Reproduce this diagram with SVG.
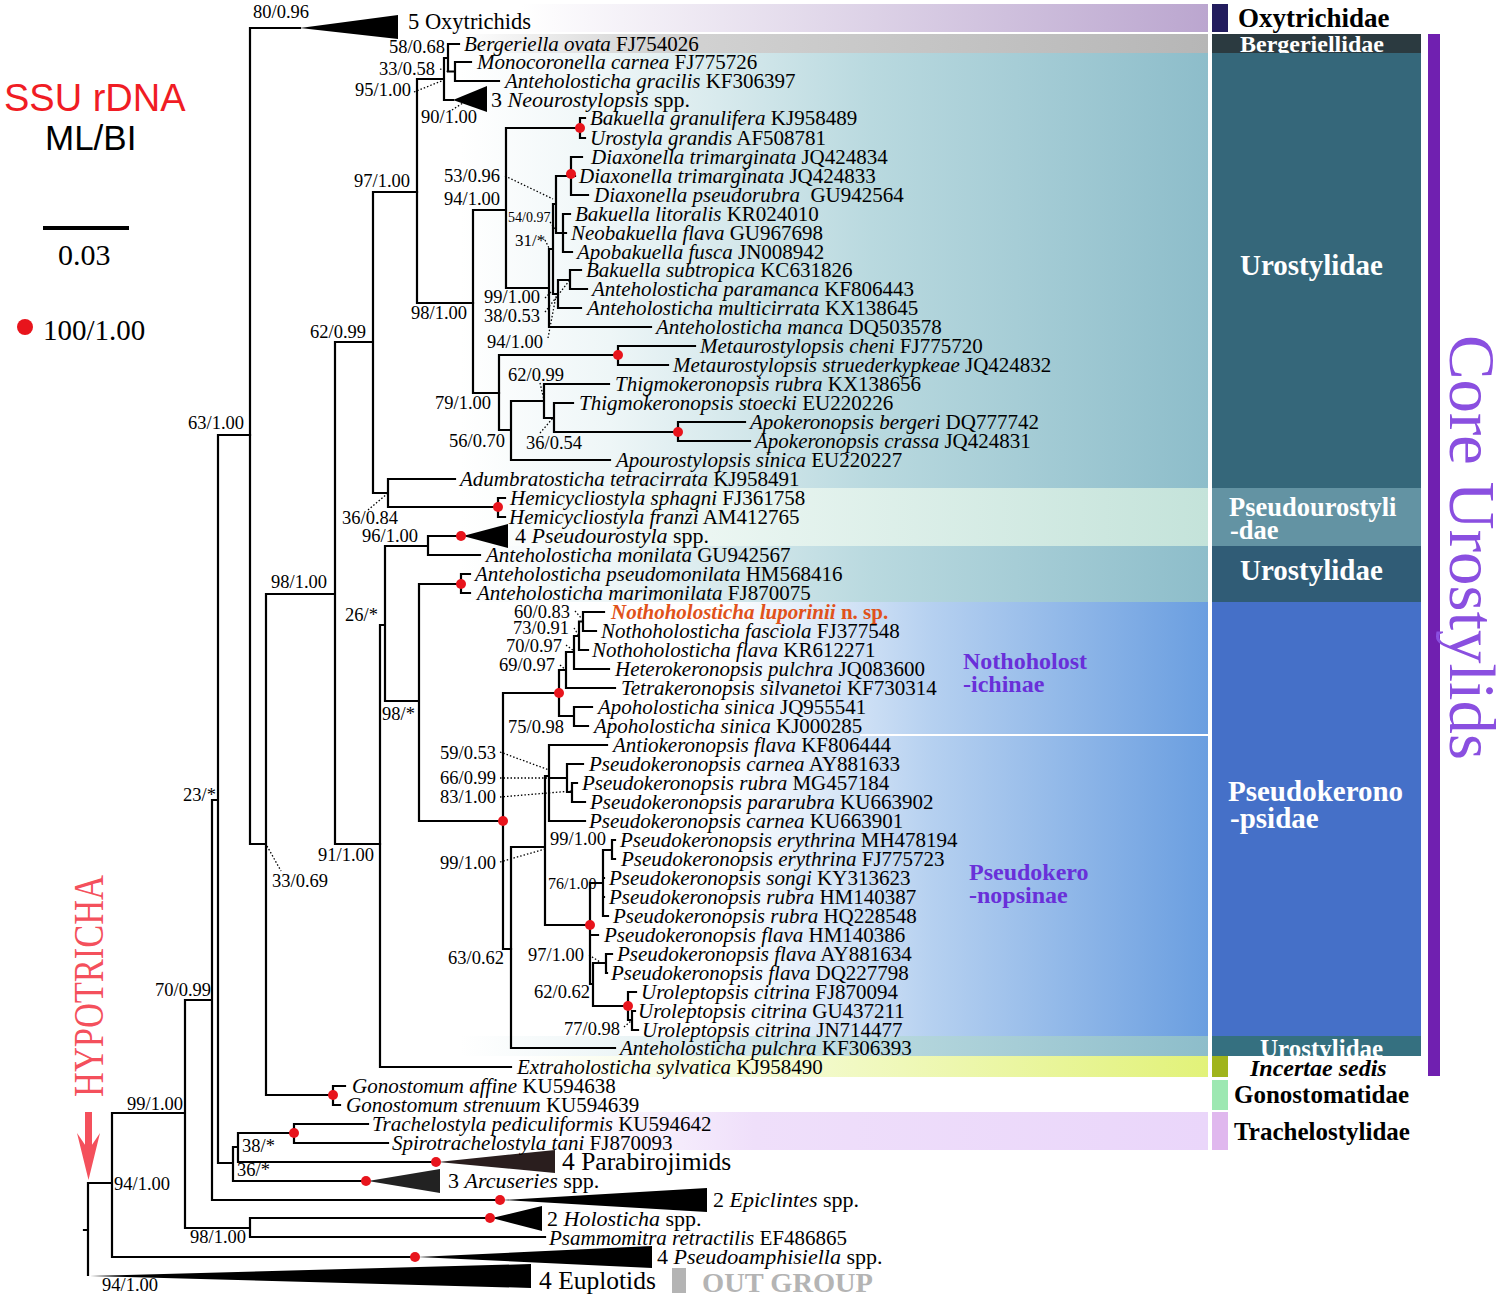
<svg xmlns="http://www.w3.org/2000/svg" width="1500" height="1298" viewBox="0 0 1500 1298">
<style>
.t{font-family:"Liberation Serif",serif;font-size:21px;font-style:italic;fill:#000}
.a{font-style:normal}
.c{font-family:"Liberation Serif",serif;font-size:22px;fill:#000}
.s{font-family:"Liberation Serif",serif;font-size:18.5px;fill:#000}
.br{fill:none;stroke:#000;stroke-width:2.2;stroke-linecap:square}
.dt{fill:none;stroke:#000;stroke-width:1.3;stroke-dasharray:1.5 2}
.rd{fill:#e8141c}
.fw{font-family:"Liberation Serif",serif;font-weight:bold;font-size:29px;fill:#fff}
.fk{font-family:"Liberation Serif",serif;font-weight:bold;font-size:25px;fill:#000}
.sub{font-family:"Liberation Serif",serif;font-weight:bold;font-size:24px;fill:#6930d9}
</style>
<defs>
<linearGradient id="gOxy" x1="0" x2="1" y1="0" y2="0"><stop offset="0" stop-color="#fff"/><stop offset="0.15" stop-color="#fff"/><stop offset="1" stop-color="#bba6cf"/></linearGradient>
<linearGradient id="gBer" x1="0" x2="1" y1="0" y2="0"><stop offset="0" stop-color="#fff"/><stop offset="0.25" stop-color="#d4d4d4"/><stop offset="1" stop-color="#b6b6b6"/></linearGradient>
<linearGradient id="gUro" x1="0" x2="1" y1="0" y2="0"><stop offset="0" stop-color="#fff"/><stop offset="0.2" stop-color="#eef6f7"/><stop offset="0.55" stop-color="#b9d9df"/><stop offset="1" stop-color="#8dbdca"/></linearGradient>
<linearGradient id="gPsu" x1="0" x2="1" y1="0" y2="0"><stop offset="0" stop-color="#fff"/><stop offset="0.3" stop-color="#edf7f3"/><stop offset="1" stop-color="#c4e3da"/></linearGradient>
<linearGradient id="gPk" x1="0" x2="1" y1="0" y2="0"><stop offset="0" stop-color="#fff"/><stop offset="0.3" stop-color="#fff"/><stop offset="0.6" stop-color="#b5d0f0"/><stop offset="1" stop-color="#6a9ee0"/></linearGradient>
<linearGradient id="gInc" x1="0" x2="1" y1="0" y2="0"><stop offset="0" stop-color="#fff"/><stop offset="0.35" stop-color="#f5fbd6"/><stop offset="1" stop-color="#e2f279"/></linearGradient>
<linearGradient id="gTra" x1="0" x2="1" y1="0" y2="0"><stop offset="0" stop-color="#fff"/><stop offset="0.3" stop-color="#efdffa"/><stop offset="1" stop-color="#ead6fa"/></linearGradient>
<clipPath id="cBer"><rect x="1212" y="34" width="209" height="19"/></clipPath>
<clipPath id="cUro3"><rect x="1212" y="1036" width="209" height="20"/></clipPath>
</defs>
<rect width="1500" height="1298" fill="#fff"/>

<g id="bands">
<rect x="400" y="4" width="808" height="28" fill="url(#gOxy)"/>
<rect x="460" y="34" width="748" height="19" fill="url(#gBer)"/>
<rect x="460" y="53" width="748" height="435" fill="url(#gUro)"/>
<rect x="460" y="488" width="748" height="58" fill="url(#gPsu)"/>
<rect x="460" y="546" width="748" height="56" fill="url(#gUro)"/>
<rect x="520" y="602" width="688" height="434" fill="url(#gPk)"/>
<line x1="860" y1="735" x2="1208" y2="735" stroke="#fff" stroke-width="2"/>
<rect x="460" y="1036" width="748" height="20" fill="url(#gUro)"/>
<rect x="520" y="1056" width="688" height="21" fill="url(#gInc)"/>
<rect x="560" y="1112" width="648" height="38" fill="url(#gTra)"/>
</g>

<g id="families">
<rect x="1212" y="4" width="16" height="28" fill="#231d5e"/>
<text class="fk" x="1238" y="27" style="font-size:27px">Oxytrichidae</text>
<rect x="1212" y="34" width="209" height="19" fill="#2b3a40"/>
<text class="fw" x="1240" y="52" style="font-size:24px" clip-path="url(#cBer)">Bergeriellidae</text>
<rect x="1212" y="53" width="209" height="435" fill="#35677a"/>
<text class="fw" x="1240" y="275">Urostylidae</text>
<rect x="1212" y="488" width="209" height="58" fill="#6393a3"/>
<text class="fw" x="1229" y="516" style="font-size:26.5px">Pseudourostyli</text>
<text class="fw" x="1230" y="539" style="font-size:26.5px">-dae</text>
<rect x="1212" y="546" width="209" height="56" fill="#305c76"/>
<text class="fw" x="1240" y="580">Urostylidae</text>
<rect x="1212" y="602" width="209" height="434" fill="#4570c8"/>
<text class="fw" x="1228" y="801">Pseudokerono</text>
<text class="fw" x="1230" y="828">-psidae</text>
<rect x="1212" y="1036" width="209" height="20" fill="#357080"/>
<text class="fw" x="1260" y="1057" style="font-size:25px" clip-path="url(#cUro3)">Urostylidae</text>
<rect x="1212" y="1056" width="16" height="21" fill="#a0b41c"/>
<text class="fk" x="1250" y="1076" style="font-size:24px;font-style:italic">Incertae sedis</text>
<rect x="1212" y="1080" width="16" height="30" fill="#9de8b2"/>
<text class="fk" x="1234" y="1103">Gonostomatidae</text>
<rect x="1212" y="1112" width="16" height="38" fill="#e0b8ee"/>
<text class="fk" x="1234" y="1140">Trachelostylidae</text>
<rect x="1428" y="34" width="12" height="1042" fill="#7020b0"/>
<text transform="translate(1450,335) rotate(90)" font-family="'Liberation Serif',serif" font-size="65" fill="#8a4fe0" textLength="425" lengthAdjust="spacingAndGlyphs">Core Urostylids</text>
</g>

<g id="legend">
<text x="4" y="111" font-family="'Liberation Sans',sans-serif" font-size="38" fill="#f01c24">SSU rDNA</text>
<text x="45" y="150" font-family="'Liberation Sans',sans-serif" font-size="35" fill="#000">ML/BI</text>
<line x1="43" y1="228" x2="129" y2="228" stroke="#000" stroke-width="4"/>
<text x="58" y="265" font-family="'Liberation Serif',serif" font-size="30">0.03</text>
<circle cx="25" cy="327" r="8" class="rd"/>
<text x="43" y="340" font-family="'Liberation Serif',serif" font-size="29">100/1.00</text>
<text transform="translate(103,1097) rotate(-90)" font-family="'Liberation Serif',serif" font-size="42" fill="#f4505c" textLength="222" lengthAdjust="spacingAndGlyphs">HYPOTRICHA</text>
<rect x="85" y="1112" width="7" height="38" fill="#f4505c"/>
<polygon points="77,1133 88.5,1150 100,1133 88.5,1180" fill="#f4505c"/>
<rect x="672" y="1268" width="14" height="25" fill="#b4b4b4"/>
<text x="702" y="1292" font-family="'Liberation Serif',serif" font-weight="bold" font-size="28" fill="#b4b4b4" textLength="171" lengthAdjust="spacingAndGlyphs">OUT GROUP</text>
<text class="sub" x="963" y="669">Nothoholost</text>
<text class="sub" x="963" y="692">-ichinae</text>
<text class="sub" x="969" y="880">Pseudokero</text>
<text class="sub" x="969" y="903">-nopsinae</text>
</g>

<g id="connectors">
<path class="br" d="M84,1230H88M88,1183V1275M88,1183H112M112,1113V1257M112,1113H185M112,1257H415M185,1000V1228M185,1000H212M185,1228H250M250,1218V1237M250,1218H490M250,1237H545M212,800V1200M212,800H218M212,1200H500M218,435V1163M218,435H250M218,1163H233M233,1147V1181M233,1147H238M233,1181H366M238,1133V1162M238,1133H294M238,1162H436M294,1124V1143M294,1124H368M294,1143H388"/>
<path class="br" d="M250,28V844M250,28H300M250,844H266M266,594V1095M266,594H335M266,1095H333M333,1086V1105M333,1086H345M333,1105H340M335,342V844M335,342H373M335,844H380M373,192V493M373,192H417M373,493H388M388,479V507M388,479H455M388,507H498M498,498V517M498,498H505M498,517H505"/>
<path class="br" d="M417,79V303M417,79H444M417,303H473M444,58V100M444,58H448M444,100H453M448,44V71.5M448,44H459M448,71.5H455M455,62V81M455,62H471M455,81H499"/>
<path class="br" d="M473,210V393M473,210H506M473,393H499M506,128V288M506,128H580M506,288H549M580,118V138M580,118H585M580,138H585M549,249V327M549,249H553M549,327H651M553,204V294M553,204H556M553,294H558M556,176V233M556,176H571M556,233H563M571,157V195M571,157H582M571,176H575M571,195H588M563,214V252M563,214H570M563,233H566M563,252H572M558,280V308M558,280H570M558,308H581M570,270V289M570,270H581M570,289H587"/>
<path class="br" d="M499,355V430M499,355H618M499,430H511M618,346V365M618,346H695M618,365H668M511,401V460M511,401H544M511,460H610M544,384V418M544,384H609M544,418H554M554,403V432M554,403H573M554,432H678M678,422V441M678,422H745M678,441H750"/>
<path class="br" d="M380,625V1067M380,625H385M380,1067H511M385,546V701M385,546H428M385,701H419M428,536V555M428,536H461M428,555H480M419,584V821M419,584H461M419,821H503M461,574V593M461,574H470M461,593H470"/>
<path class="br" d="M503,693V949M503,693H559M503,949H511M559,670V716M559,670H566M559,716H574M566,652V688M566,652H574M566,688H615M574,636V669M574,636H579M574,669H609M579,621.5V650M579,621.5H583M579,650H588M583,612V631M583,612H604M583,631H596M574,707V726M574,707H592M574,726H588"/>
<path class="br" d="M511,847V1048M511,847H545M511,1048H615M545,776V925M545,776H549M545,925H590M549,745V821M549,745H607M549,778H567M549,821H585M567,764V792M567,764H583M567,792H572M572,783V802M572,783H577M572,802H585"/>
<path class="br" d="M590,883V984M590,883H603M590,935H598M590,984H593M603,850V916M603,850H612M603,878H604M603,897H604M603,916H608M612,840V859M612,840H615M612,859H615M593,963V1006M593,963H606M593,1006H628M606,954V973M606,954H612M606,973H607M628,992V1020M628,992H636M628,1020H632M632,1011V1030M632,1011H635M632,1030H638"/>
<path class="dt" d="M440,69L449,72M414,92L444,80M452,110L466,101M505,176L553,199M550,222L556,230M545,240L549,248M545,298L553,290M545,312L569,281M548,338L556,296M540,383L544,400M540,433L553,418M368,510L388,493M575,611L582,619M574,628L579,636M566,645L574,651M560,665L566,670M500,752L549,770M500,778L549,778M500,797L572,791M500,862L545,849M589,955L600,962M624,1027L632,1020M267,846L281,871"/>
<g fill="#000">
<polygon points="300,28 398,15 398,39"/>
<polygon points="453,100 487,86 487,112"/>
<polygon points="463,536 508,524 508,548"/>
<polygon points="438,1162 555,1150 555,1173" fill="#2a1e1e"/>
<polygon points="368,1181 440,1169 440,1193" fill="#222"/>
<polygon points="502,1200 707,1188 707,1212"/>
<polygon points="492,1218 542,1206 542,1231"/>
<polygon points="417,1257 652,1246 652,1268"/>
<polygon points="90,1276 531,1264 531,1288"/>
</g>
<g class="rd">
<circle cx="580" cy="128" r="5"/><circle cx="571" cy="174" r="5"/><circle cx="618" cy="355" r="5"/><circle cx="678" cy="432" r="5"/><circle cx="498" cy="507" r="5"/><circle cx="461" cy="536" r="5"/><circle cx="461" cy="584" r="5"/><circle cx="559" cy="693" r="5"/><circle cx="503" cy="821" r="5"/><circle cx="590" cy="925" r="5"/><circle cx="628" cy="1006" r="5"/><circle cx="333" cy="1095" r="5"/><circle cx="294" cy="1133" r="5"/><circle cx="436" cy="1162" r="5"/><circle cx="366" cy="1181" r="5"/><circle cx="500" cy="1200" r="5"/><circle cx="490" cy="1218" r="5"/><circle cx="415" cy="1257" r="5"/>
</g>
</g>

<g id="supports" class="s">
<text x="253" y="18">80/0.96</text><text x="389" y="53">58/0.68</text><text x="379" y="75">33/0.58</text><text x="355" y="96">95/1.00</text><text x="421" y="123">90/1.00</text><text x="354" y="187">97/1.00</text><text x="444" y="182">53/0.96</text><text x="444" y="205">94/1.00</text><text x="508" y="222" style="font-size:14px">54/0.97</text><text x="515" y="246" style="font-size:17px">31/*</text><text x="484" y="303">99/1.00</text><text x="411" y="319">98/1.00</text><text x="484" y="322">38/0.53</text><text x="310" y="338">62/0.99</text><text x="487" y="348">94/1.00</text><text x="508" y="381">62/0.99</text><text x="435" y="409">79/1.00</text><text x="188" y="429">63/1.00</text><text x="449" y="447">56/0.70</text><text x="526" y="449">36/0.54</text><text x="342" y="524">36/0.84</text><text x="362" y="542">96/1.00</text><text x="271" y="588">98/1.00</text><text x="345" y="621">26/*</text><text x="514" y="618">60/0.83</text><text x="513" y="634">73/0.91</text><text x="506" y="652">70/0.97</text><text x="499" y="671">69/0.97</text><text x="382" y="720">98/*</text><text x="508" y="733">75/0.98</text><text x="440" y="759">59/0.53</text><text x="440" y="784">66/0.99</text><text x="440" y="803">83/1.00</text><text x="183" y="801">23/*</text><text x="550" y="845">99/1.00</text><text x="318" y="861">91/1.00</text><text x="440" y="869">99/1.00</text><text x="272" y="887">33/0.69</text><text x="548" y="889" style="font-size:16px">76/1.00</text><text x="528" y="961">97/1.00</text><text x="448" y="964">63/0.62</text><text x="155" y="996">70/0.99</text><text x="534" y="998">62/0.62</text><text x="564" y="1035">77/0.98</text><text x="127" y="1110">99/1.00</text><text x="242" y="1152">38/*</text><text x="237" y="1176">36/*</text><text x="114" y="1190">94/1.00</text><text x="190" y="1243">98/1.00</text><text x="102" y="1291">94/1.00</text>
</g>

<g id="taxa">
<g id="n-oxytrichids"><text class="c" x="408" y="29" style="font-size:22.5px">5 Oxytrichids</text></g>
<g id="n-bergeriella"><text class="t" x="464" y="51">Bergeriella ovata<tspan class="a"> FJ754026</tspan></text></g>
<g id="n-monocoronella"><text class="t" x="477" y="69">Monocoronella carnea<tspan class="a"> FJ775726</tspan></text></g>
<g id="n-ante-gracilis"><text class="t" x="505" y="88">Anteholosticha gracilis<tspan class="a"> KF306397</tspan></text></g>
<g id="n-neourostylopsis"><text class="c" x="491" y="107">3 <tspan font-style="italic">Neourostylopsis</tspan> spp.</text></g>
<g id="n-bak-granulifera"><text class="t" x="590" y="125">Bakuella granulifera<tspan class="a"> KJ958489</tspan></text></g>
<g id="n-uro-grandis"><text class="t" x="590" y="145">Urostyla grandis<tspan class="a"> AF508781</tspan></text></g>
<g id="n-diax-1"><text class="t" x="591" y="164">Diaxonella trimarginata<tspan class="a"> JQ424834</tspan></text></g>
<g id="n-diax-2"><text class="t" x="579" y="183">Diaxonella trimarginata<tspan class="a"> JQ424833</tspan></text></g>
<g id="n-diax-3"><text class="t" x="594" y="202" xml:space="preserve">Diaxonella pseudorubra<tspan class="a">  GU942564</tspan></text></g>
<g id="n-bak-litoralis"><text class="t" x="575" y="221">Bakuella litoralis<tspan class="a"> KR024010</tspan></text></g>
<g id="n-neobakuella"><text class="t" x="571" y="240">Neobakuella flava<tspan class="a"> GU967698</tspan></text></g>
<g id="n-apobakuella"><text class="t" x="577" y="259">Apobakuella fusca<tspan class="a"> JN008942</tspan></text></g>
<g id="n-bak-subtropica"><text class="t" x="586" y="277">Bakuella subtropica<tspan class="a"> KC631826</tspan></text></g>
<g id="n-ante-paramanca"><text class="t" x="592" y="296">Anteholosticha paramanca<tspan class="a"> KF806443</tspan></text></g>
<g id="n-ante-multicirrata"><text class="t" x="587" y="315">Anteholosticha multicirrata<tspan class="a"> KX138645</tspan></text></g>
<g id="n-ante-manca"><text class="t" x="656" y="334">Anteholosticha manca<tspan class="a"> DQ503578</tspan></text></g>
<g id="n-meta-cheni"><text class="t" x="700" y="353">Metaurostylopsis cheni<tspan class="a"> FJ775720</tspan></text></g>
<g id="n-meta-strued"><text class="t" x="673" y="372">Metaurostylopsis struederkypkeae<tspan class="a"> JQ424832</tspan></text></g>
<g id="n-thig-rubra"><text class="t" x="615" y="391">Thigmokeronopsis rubra<tspan class="a"> KX138656</tspan></text></g>
<g id="n-thig-stoecki"><text class="t" x="579" y="410">Thigmokeronopsis stoecki<tspan class="a"> EU220226</tspan></text></g>
<g id="n-apok-bergeri"><text class="t" x="750" y="429">Apokeronopsis bergeri<tspan class="a"> DQ777742</tspan></text></g>
<g id="n-apok-crassa"><text class="t" x="755" y="448">Apokeronopsis crassa<tspan class="a"> JQ424831</tspan></text></g>
<g id="n-apourostylopsis"><text class="t" x="616" y="467">Apourostylopsis sinica<tspan class="a"> EU220227</tspan></text></g>
<g id="n-adumbratosticha"><text class="t" x="460" y="486">Adumbratosticha tetracirrata<tspan class="a"> KJ958491</tspan></text></g>
<g id="n-hemi-sphagni"><text class="t" x="510" y="505">Hemicycliostyla sphagni<tspan class="a"> FJ361758</tspan></text></g>
<g id="n-hemi-franzi"><text class="t" x="509" y="524">Hemicycliostyla franzi<tspan class="a"> AM412765</tspan></text></g>
<g id="n-pseudourostyla"><text class="c" x="515" y="543">4 <tspan font-style="italic">Pseudourostyla</tspan> spp.</text></g>
<g id="n-ante-monilata"><text class="t" x="486" y="562">Anteholosticha monilata<tspan class="a"> GU942567</tspan></text></g>
<g id="n-ante-pseudomonilata"><text class="t" x="475" y="581">Anteholosticha pseudomonilata<tspan class="a"> HM568416</tspan></text></g>
<g id="n-ante-marimonilata"><text class="t" x="477" y="600">Anteholosticha marimonilata<tspan class="a"> FJ870075</tspan></text></g>
<g id="n-luporinii"><text class="t" x="611" y="619" style="fill:#e0521a;font-weight:bold">Nothoholosticha luporinii<tspan class="a"> n. sp.</tspan></text></g>
<g id="n-notho-fasciola"><text class="t" x="601" y="638">Nothoholosticha fasciola<tspan class="a"> FJ377548</tspan></text></g>
<g id="n-notho-flava"><text class="t" x="592" y="657">Nothoholosticha flava<tspan class="a"> KR612271</tspan></text></g>
<g id="n-heterokeronopsis"><text class="t" x="615" y="676">Heterokeronopsis pulchra<tspan class="a"> JQ083600</tspan></text></g>
<g id="n-tetrakeronopsis"><text class="t" x="621" y="695">Tetrakeronopsis silvanetoi<tspan class="a"> KF730314</tspan></text></g>
<g id="n-apohol-1"><text class="t" x="598" y="714">Apoholosticha sinica<tspan class="a"> JQ955541</tspan></text></g>
<g id="n-apohol-2"><text class="t" x="594" y="733">Apoholosticha sinica<tspan class="a"> KJ000285</tspan></text></g>
<g id="n-antiokeronopsis"><text class="t" x="613" y="752">Antiokeronopsis flava<tspan class="a"> KF806444</tspan></text></g>
<g id="n-pk-carnea-1"><text class="t" x="589" y="771">Pseudokeronopsis carnea<tspan class="a"> AY881633</tspan></text></g>
<g id="n-pk-rubra-1"><text class="t" x="582" y="790">Pseudokeronopsis rubra<tspan class="a"> MG457184</tspan></text></g>
<g id="n-pk-pararubra"><text class="t" x="590" y="809">Pseudokeronopsis pararubra<tspan class="a"> KU663902</tspan></text></g>
<g id="n-pk-carnea-2"><text class="t" x="589" y="828">Pseudokeronopsis carnea<tspan class="a"> KU663901</tspan></text></g>
<g id="n-pk-ery-1"><text class="t" x="620" y="847">Pseudokeronopsis erythrina<tspan class="a"> MH478194</tspan></text></g>
<g id="n-pk-ery-2"><text class="t" x="621" y="866">Pseudokeronopsis erythrina<tspan class="a"> FJ775723</tspan></text></g>
<g id="n-pk-songi"><text class="t" x="609" y="885">Pseudokeronopsis songi<tspan class="a"> KY313623</tspan></text></g>
<g id="n-pk-rubra-2"><text class="t" x="609" y="904">Pseudokeronopsis rubra<tspan class="a"> HM140387</tspan></text></g>
<g id="n-pk-rubra-3"><text class="t" x="613" y="923">Pseudokeronopsis rubra<tspan class="a"> HQ228548</tspan></text></g>
<g id="n-pk-flava-1"><text class="t" x="604" y="942">Pseudokeronopsis flava<tspan class="a"> HM140386</tspan></text></g>
<g id="n-pk-flava-2"><text class="t" x="617" y="961">Pseudokeronopsis flava<tspan class="a"> AY881634</tspan></text></g>
<g id="n-pk-flava-3"><text class="t" x="611" y="980">Pseudokeronopsis flava<tspan class="a"> DQ227798</tspan></text></g>
<g id="n-urol-1"><text class="t" x="641" y="999">Uroleptopsis citrina<tspan class="a"> FJ870094</tspan></text></g>
<g id="n-urol-2"><text class="t" x="638" y="1018">Uroleptopsis citrina<tspan class="a"> GU437211</tspan></text></g>
<g id="n-urol-3"><text class="t" x="642" y="1037">Uroleptopsis citrina<tspan class="a"> JN714477</tspan></text></g>
<g id="n-ante-pulchra"><text class="t" x="620" y="1055">Anteholosticha pulchra<tspan class="a"> KF306393</tspan></text></g>
<g id="n-extraholosticha"><text class="t" x="517" y="1074">Extraholosticha sylvatica<tspan class="a"> KJ958490</tspan></text></g>
<g id="n-gono-affine"><text class="t" x="352" y="1093">Gonostomum affine<tspan class="a"> KU594638</tspan></text></g>
<g id="n-gono-strenuum"><text class="t" x="346" y="1112">Gonostomum strenuum<tspan class="a"> KU594639</tspan></text></g>
<g id="n-trachelostyla"><text class="t" x="372" y="1131">Trachelostyla pediculiformis<tspan class="a"> KU594642</tspan></text></g>
<g id="n-spirotrachelostyla"><text class="t" x="392" y="1150">Spirotrachelostyla tani<tspan class="a"> FJ870093</tspan></text></g>
<g id="n-parabirojimids"><text class="c" x="562" y="1170" style="font-size:25.5px">4 Parabirojimids</text></g>
<g id="n-arcuseries"><text class="c" x="448" y="1188">3 <tspan font-style="italic">Arcuseries</tspan> spp.</text></g>
<g id="n-epiclintes"><text class="c" x="713" y="1207">2 <tspan font-style="italic">Epiclintes</tspan> spp.</text></g>
<g id="n-holosticha"><text class="c" x="547" y="1226">2 <tspan font-style="italic">Holosticha</tspan> spp.</text></g>
<g id="n-psammomitra"><text class="t" x="549" y="1245">Psammomitra retractilis<tspan class="a"> EF486865</tspan></text></g>
<g id="n-pseudoamphisiella"><text class="c" x="657" y="1264">4 <tspan font-style="italic">Pseudoamphisiella</tspan> spp.</text></g>
<g id="n-euplotids"><text class="c" x="539" y="1289" style="font-size:25.5px">4 Euplotids</text></g>
</g>
</svg>
